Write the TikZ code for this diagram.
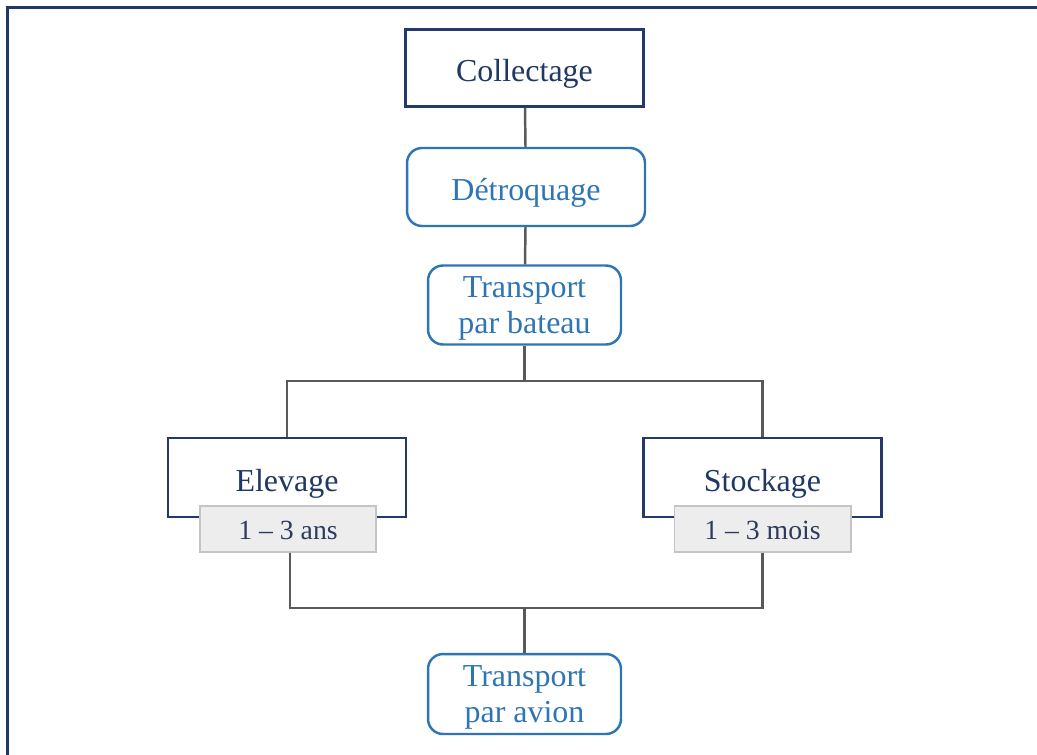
\documentclass[tikz,border=0pt]{standalone}
\usepackage{fontspec}
\setmainfont{Liberation Serif}
\definecolor{navy}{HTML}{1F3864}
\definecolor{boxnavy}{HTML}{24386B}
\definecolor{stepblue}{HTML}{2E75B6}
\definecolor{linkgrey}{HTML}{595959}
\definecolor{tagfill}{HTML}{EDEDED}
\definecolor{tagline}{HTML}{C4C4C4}
\definecolor{tagtext}{HTML}{2F3B5C}
\begin{document}
\begin{tikzpicture}[x=0.02cm, y=-0.02cm,
    mainbox/.style={draw=boxnavy, line width=1.6pt, text=navy, fill=white,
        minimum width=4.76cm, minimum height=1.54cm, inner sep=0pt,
        text height=15.5pt, text depth=0pt,
        font=\fontsize{18.2}{20.6}\selectfont},
    roundbox/.style={draw=stepblue, line width=1.4pt, rounded corners=0.3cm,
        text=stepblue, fill=white, inner sep=0pt, align=center, text depth=0pt,
        font=\fontsize{18.2}{20.6}\selectfont},
    tagbox/.style={draw=tagline, line width=0.6pt, fill=tagfill, text=tagtext,
        minimum width=3.52cm, minimum height=0.92cm, inner sep=0pt,
        text height=12.5pt, text depth=0pt, font=\fontsize{15.8}{18}\selectfont},
    link/.style={draw=linkgrey, line width=1.4pt}]
    % Page area and outer frame
    \useasboundingbox (0,0) rectangle (1037,754);
    \draw[navy, line width=1.7pt] (7.5,7.5) rectangle (1060,780);

    % Draw nodes
    \node[mainbox] (collect) at (524.5,68) {Collectage};
    \node[roundbox, minimum width=4.76cm, minimum height=1.56cm, text height=15.5pt] (detroq) at (526,187) {Détroquage};
    \node[roundbox, minimum width=3.86cm, minimum height=1.58cm] (bateau) at (524.5,305) {Transport\\par bateau};
    \node[mainbox, minimum height=1.58cm] (elevage) at (287,477.5) {Elevage};
    \node[mainbox, minimum height=1.58cm] (stockage) at (762.5,477.5) {Stockage};
    \node[tagbox] (ans) at (288,529) {1 – 3 ans};
    \node[tagbox, minimum width=3.54cm] (mois) at (762.5,529) {1 – 3 mois};
    \node[roundbox, minimum width=3.86cm, minimum height=1.6cm] (avion) at (524.5,694) {Transport\\par avion};

    % Junction points of the two buses
    \coordinate (split) at (524.5,381);
    \coordinate (join) at (524.5,608);

    % Draw edges
    \draw[link] (collect) -- (detroq);
    \draw[link] (detroq) -- (bateau);
    \draw[link] (bateau) -- (split);
    \draw[link] (split) -| (elevage.north);
    \draw[link] (split) -| (stockage.north);
    \draw[link] (ans.south -| 290,0) |- (join);
    \draw[link] (mois.south) |- (join);
    \draw[link] (join) -- (avion);
\end{tikzpicture}
\end{document}
